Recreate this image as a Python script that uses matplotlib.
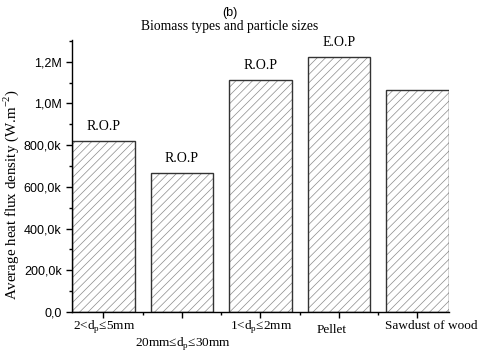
import matplotlib
matplotlib.use('Agg')
import matplotlib.pyplot as plt
from matplotlib.ticker import MultipleLocator

# data
categories = ['2<d$_\\mathregular{p}$≤5mm', '20mm≤d$_\\mathregular{p}$≤30mm',
              '1<d$_\\mathregular{p}$≤2mm', 'Pellet', 'Sawdust of wood']
heat_flux = [819e3, 665e3, 1113e3, 1222e3, 1063e3]
bar_labels = ['R.O.P', 'R.O.P', 'R.O.P', 'E.O.P', '']
ytick_values = [0, 200e3, 400e3, 600e3, 800e3, 1.0e6, 1.2e6]
ytick_labels = ['0,0', '200,0k', '400,0k', '600,0k', '800,0k', '1,0M', '1,2M']

serif = 'Liberation Serif'
sans = 'Liberation Sans'
plt.rcParams['mathtext.fontset'] = 'custom'
plt.rcParams['mathtext.rm'] = serif
plt.rcParams['hatch.linewidth'] = 0.5

fig = plt.figure(figsize=(4.8, 3.53), dpi=100)
ax = fig.add_axes([0.15, 0.116, 0.785, 0.771])

x = list(range(1, len(heat_flux) + 1))
# hatch layer in grey, then the outlines on top
ax.bar(x, heat_flux, width=0.8, color='white', edgecolor='#8a8a8a', hatch='////', linewidth=0)
ax.bar(x, heat_flux, width=0.8, fill=False, edgecolor='#333333', linewidth=1.0)

for xi, v, lab in zip(x, heat_flux, bar_labels):
    if lab:
        ax.annotate(lab, (xi, v), xytext=(0, 6), textcoords='offset points',
                    ha='center', va='bottom', family=serif, fontsize=10)

ax.set_xlim(0.6, 5.4)
ax.set_ylim(0, 1.305e6)
ax.set_xticks(x)
ax.set_xticklabels([])
# category labels placed by hand, staggered like the original (offsets in pixels)
offsets = [(1, -14), (1, -31), (1, -14), (-7, -18), (14, -14)]
for xi, cat, (dx, dy) in zip(x, categories, offsets):
    ax.annotate(cat, (xi, 0), xycoords=('data', 'axes fraction'), xytext=(dx, dy),
                textcoords='offset pixels', ha='center', va='center',
                family=serif, fontsize=9.5, annotation_clip=False)
ax.set_xticks([1.5, 2.5, 3.5, 4.5], minor=True)
ax.set_yticks(ytick_values)
ax.set_yticklabels(ytick_labels, family=sans, fontsize=9)
ax.yaxis.set_minor_locator(MultipleLocator(100e3))
ax.tick_params(which='major', length=4, width=1, direction='out')
ax.tick_params(which='minor', length=2.5, width=1, direction='out')
ax.spines['top'].set_visible(False)
ax.spines['right'].set_visible(False)
ax.spines['left'].set_linewidth(1)
ax.spines['bottom'].set_linewidth(1)

ax.set_ylabel('Average heat flux density (W.m$^{-2}$)', family=serif, fontsize=10.8)
ax.yaxis.set_label_coords(-0.135, 0.43)
fig.text(0.478, 0.962, '(b)', ha='center', va='center', family=sans, fontsize=9)
fig.text(0.478, 0.925, 'Biomass types and particle sizes', ha='center', va='center',
         family=serif, fontsize=9.8)

fig.savefig('out.png', dpi=100)
